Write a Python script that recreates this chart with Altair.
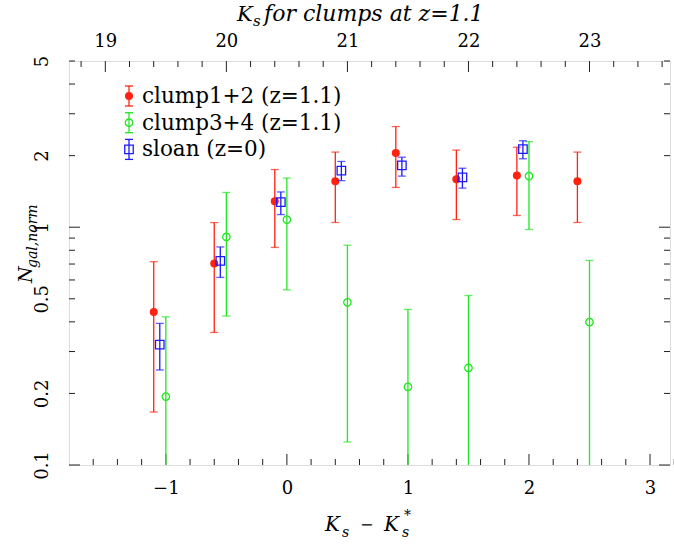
import altair as alt
import pandas as pd

# ---------------- data ----------------
red_x = [-1.1, -0.6, -0.1, 0.4, 0.9, 1.4, 1.9, 2.4]
red_y = [0.44, 0.704, 1.286, 1.56, 2.05, 1.59, 1.65, 1.56]
red_lo = [0.167, 0.361, 0.822, 1.047, 1.47, 1.077, 1.12, 1.047]
red_hi = [0.716, 1.046, 1.748, 2.07, 2.65, 2.11, 2.17, 2.07]

green_x = [-1.0, -0.5, 0.0, 0.5, 1.0, 1.5, 2.0, 2.5]
green_y = [0.194, 0.910, 1.077, 0.483, 0.213, 0.256, 1.64, 0.399]
green_lo = [0.05, 0.423, 0.545, 0.125, 0.05, 0.05, 0.978, 0.05]
green_hi = [0.42, 1.40, 1.61, 0.84, 0.451, 0.516, 2.29, 0.725]

blue_x = [-1.05, -0.55, -0.05, 0.45, 0.95, 1.45, 1.95]
blue_y = [0.321, 0.722, 1.274, 1.73, 1.82, 1.62, 2.13]
blue_lo = [0.251, 0.615, 1.13, 1.57, 1.64, 1.46, 1.94]
blue_hi = [0.394, 0.826, 1.407, 1.89, 1.97, 1.77, 2.31]

legend_labels = ["clump1+2 (z=1.1)", "clump3+4 (z=1.1)", "sloan (z=0)"]

x_major = [-1, 0, 1, 2, 3]
x_minor = [-1.6, -1.4, -1.2, -0.8, -0.6, -0.4, -0.2, 0.2, 0.4, 0.6, 0.8,
           1.2, 1.4, 1.6, 1.8, 2.2, 2.4, 2.6, 2.8, 3.2]
ks_major = [19, 20, 21, 22, 23]
ks_minor = [18.8, 19.2, 19.4, 19.6, 19.8, 20.2, 20.4, 20.6, 20.8, 21.2, 21.4,
            21.6, 21.8, 22.2, 22.4, 22.6, 22.8, 23.2, 23.4, 23.6]
y_major = [0.1, 1]
y_minor = [0.2, 0.3, 0.4, 0.5, 0.6, 0.7, 0.8, 0.9, 2, 3, 4, 5]
y_labels = [0.1, 0.2, 0.5, 1, 2, 5]

# ---------------- layout ----------------
W, H = 601, 404
XDOM = [-1.8, 3.165]
KS_OFF = 20.5
SERIF = "DejaVu Serif"
FRAME = "#222222"
RED, GREEN, BLUE = "#ff2211", "#22e622", "#1a1aff"
MAJ, MIN = 11, 6

xs = alt.Scale(domain=XDOM, nice=False, zero=False)
ys = alt.Scale(type="log", domain=[0.1, 5], nice=False)
ks_scale = alt.Scale(domain=[XDOM[0] + KS_OFF, XDOM[1] + KS_OFF], nice=False, zero=False)

X_AXIS = alt.Axis(values=x_major, ticks=False, tickSize=0, domain=False, grid=False,
                  labelFont=SERIF, labelFontSize=18, labelColor="black",
                  labelBaseline="alphabetic", labelPadding=28, title=None)
Y_AXIS = alt.Axis(values=y_labels, ticks=False, tickSize=0, domain=False, grid=False,
                  labelFont=SERIF, labelFontSize=18, labelColor="black",
                  labelAngle=270, labelAlign="center", labelBaseline="alphabetic",
                  labelPadding=22, labelExpr="datum.value + ''", title=None)
TOP_AXIS = alt.Axis(orient="top", values=ks_major, ticks=False, tickSize=0, domain=False,
                    grid=False, labelFont=SERIF, labelFontSize=18, labelColor="black",
                    labelBaseline="alphabetic", labelPadding=15, title=None)


def series(xv, yv, lo, hi, color, shape, filled, size):
    df = pd.DataFrame({"x": xv, "y": yv, "lo": lo, "hi": hi})
    base = alt.Chart(df)
    X = alt.X("x:Q", scale=xs, axis=X_AXIS)
    bar = base.mark_rule(color=color, strokeWidth=1.3, clip=True).encode(
        x=X, y=alt.Y("lo:Q", scale=ys, axis=Y_AXIS), y2="hi:Q")
    cap_lo = base.mark_tick(color=color, orient="horizontal", size=8, thickness=1.3, clip=True).encode(
        x=X, y=alt.Y("lo:Q", scale=ys, axis=Y_AXIS))
    cap_hi = base.mark_tick(color=color, orient="horizontal", size=8, thickness=1.3, clip=True).encode(
        x=X, y=alt.Y("hi:Q", scale=ys, axis=Y_AXIS))
    if filled:
        pt = base.mark_point(shape=shape, filled=True, color=color, size=size, opacity=1, clip=True)
    else:
        pt = base.mark_point(shape=shape, filled=False, color=color, size=size,
                             strokeWidth=1.3, opacity=1, clip=True)
    pt = pt.encode(x=X, y=alt.Y("y:Q", scale=ys, axis=Y_AXIS))
    return [bar, cap_lo, cap_hi, pt]


def ticks_x(vals, length):
    df = pd.DataFrame({"x": vals})
    return alt.Chart(df).mark_rule(color=FRAME, strokeWidth=1).encode(
        x=alt.X("x:Q", scale=xs, axis=X_AXIS), y=alt.value(H), y2=alt.value(H - length))


def ticks_y(vals, length):
    df = pd.DataFrame({"y": vals})
    left = alt.Chart(df).mark_rule(color=FRAME, strokeWidth=1).encode(
        y=alt.Y("y:Q", scale=ys, axis=Y_AXIS), x=alt.value(0), x2=alt.value(length))
    right = alt.Chart(df).mark_rule(color=FRAME, strokeWidth=1).encode(
        y=alt.Y("y:Q", scale=ys, axis=Y_AXIS), x=alt.value(W), x2=alt.value(W - length))
    return [left, right]


def text(t, x, y, size, italic=False, angle=0, align="left", baseline="alphabetic"):
    kw = dict(font=SERIF, fontSize=size, color="black", align=align, baseline=baseline)
    if italic:
        kw["fontStyle"] = "italic"
    enc = dict(x=alt.value(x), y=alt.value(y), text="t:N")
    if angle:
        kw["angle"] = angle
    return alt.Chart(pd.DataFrame({"t": [t]})).mark_text(**kw).encode(**enc)


def legend_entry(i, color, shape, filled, size):
    cy = 35 + 26.7 * i
    d = pd.DataFrame({"t": [legend_labels[i]]})
    b = alt.Chart(d)
    bar = b.mark_rule(color=color, strokeWidth=1.3).encode(
        x=alt.value(60), y=alt.value(cy - 10), y2=alt.value(cy + 10))
    c1 = b.mark_rule(color=color, strokeWidth=1.3).encode(
        x=alt.value(56), x2=alt.value(64), y=alt.value(cy - 10))
    c2 = b.mark_rule(color=color, strokeWidth=1.3).encode(
        x=alt.value(56), x2=alt.value(64), y=alt.value(cy + 10))
    if filled:
        pt = b.mark_point(shape=shape, filled=True, color=color, size=size, opacity=1)
    else:
        pt = b.mark_point(shape=shape, filled=False, color=color, size=size, strokeWidth=1.3, opacity=1)
    pt = pt.encode(x=alt.value(60), y=alt.value(cy))
    lab = b.mark_text(font=SERIF, fontSize=21.5, color="black", align="left", baseline="alphabetic").encode(
        x=alt.value(73), y=alt.value(cy + 7), text="t:N")
    return [bar, c1, c2, pt, lab]


layers = []
layers += [ticks_x(x_major, MAJ), ticks_x(x_minor, MIN)]
layers += ticks_y(y_major, MAJ) + ticks_y(y_minor, MIN)
layers += series(red_x, red_y, red_lo, red_hi, RED, "circle", True, 64)
layers += series(green_x, green_y, green_lo, green_hi, GREEN, "circle", False, 55)
layers += series(blue_x, blue_y, blue_lo, blue_hi, BLUE, "square", False, 72)
layers += legend_entry(0, RED, "circle", True, 64)
layers += legend_entry(1, GREEN, "circle", False, 55)
layers += legend_entry(2, BLUE, "square", False, 72)

# axis titles
layers += [
    text("N", -37, 222, 19, italic=True, angle=270),
    text("gal,norm", -32, 207, 14, italic=True, angle=270),
    text("K", 256, 470, 20, italic=True),
    text("s", 273, 476, 14, italic=True),
    text("\u2212", 291, 469, 16),
    text("K", 315, 470, 20, italic=True),
    text("*", 335, 459, 14),
    text("s", 333, 476, 14, italic=True),
    text("K", 168, -40, 21, italic=True),
    text("s", 184, -35, 15, italic=True),
    text("for clumps at z=1.1", 195, -40, 22, italic=True),
]

main = alt.layer(*layers)

ksmaj = pd.DataFrame({"k": ks_major})
ksmin = pd.DataFrame({"k": ks_minor})
top = alt.layer(
    alt.Chart(ksmaj).mark_rule(color=FRAME, strokeWidth=1).encode(
        x=alt.X("k:Q", scale=ks_scale, axis=TOP_AXIS), y=alt.value(0), y2=alt.value(MAJ)),
    alt.Chart(ksmin).mark_rule(color=FRAME, strokeWidth=1).encode(
        x=alt.X("k:Q", scale=ks_scale, axis=TOP_AXIS), y=alt.value(0), y2=alt.value(MIN)),
)

chart = alt.layer(main, top).resolve_scale(x="independent").properties(
    width=W, height=H, autosize=alt.AutoSizeParams(type="none"),
    padding={"left": 69, "top": 61, "right": 4, "bottom": 81},
).configure_view(stroke=FRAME, strokeWidth=1.3).configure(background="white")

chart.save("out.html", embed_options={"renderer": "svg", "actions": False})
